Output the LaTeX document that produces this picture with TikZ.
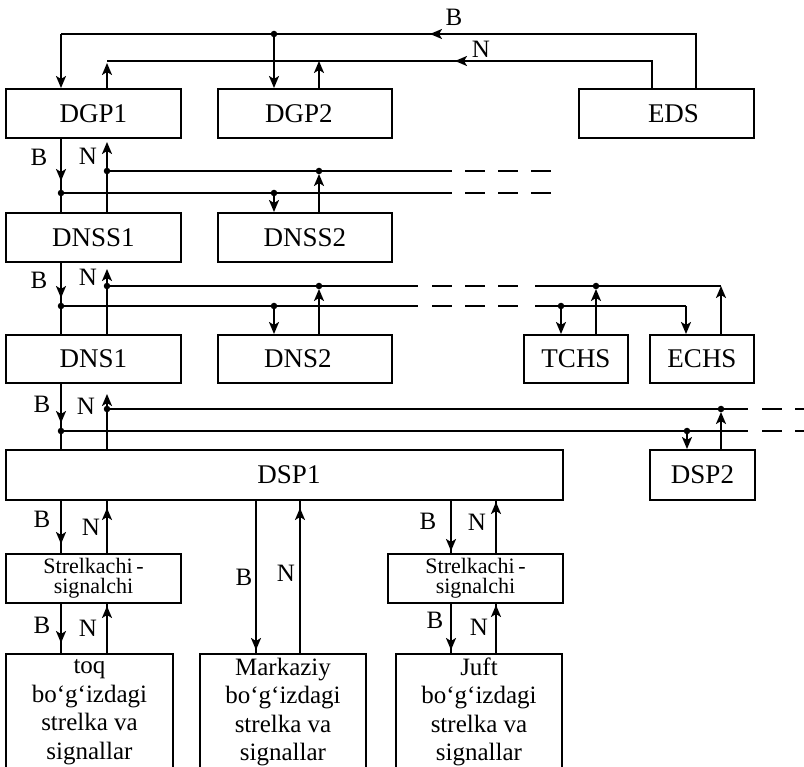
\documentclass[tikz,border=0pt]{standalone}
\usepackage{fontspec}
\setmainfont{Liberation Serif}
\usetikzlibrary{arrows.meta}

\begin{document}
\begin{tikzpicture}[x=1pt, y=-1pt, line width=2pt,
  box/.style={draw, line width=2pt, anchor=north west, inner sep=0pt,
    font=\fontsize{27}{30}\selectfont},
  small/.style={box, align=center, font=\fontsize{22}{20}\selectfont},
  leaf/.style={box, align=center, font=\fontsize{25}{28.5}\selectfont},
  arr/.style={-{Stealth[length=12pt,width=10pt,inset=3pt]}},
  tipat/.style={postaction={draw, arr, shorten >=#1}},
  dot/.style={circle, fill, inner sep=0pt, minimum size=6.5pt},
  lbl/.style={inner sep=0pt, font=\fontsize{25}{27}\selectfont},
  dashseg/.style={dash pattern=on 20pt off 13pt},
]
\useasboundingbox (0,0) rectangle (804,767);
\clip (0,0) rectangle (804,767);

% ---------- blocks ----------
\node[box, minimum width=175pt, minimum height=49pt] (DGP1) at (5,88) {DGP1};
\node[box, minimum width=174pt, minimum height=49pt] (DGP2) at (217,88) {DGP2\hspace*{12pt}};
\node[box, minimum width=175pt, minimum height=49pt] (EDS) at (578,88) {\hspace*{14pt}EDS};

\node[box, minimum width=175pt, minimum height=49pt] (DNSS1) at (5,212) {DNSS1};
\node[box, minimum width=174pt, minimum height=49pt] (DNSS2) at (217,212) {DNSS2};

\node[box, minimum width=175pt, minimum height=48pt] (DNS1) at (5,334) {DNS1};
\node[box, minimum width=174pt, minimum height=48pt] (DNS2) at (217,334) {DNS2\hspace*{14pt}};
\node[box, minimum width=104pt, minimum height=48pt] (TCHS) at (523,334) {TCHS};
\node[box, minimum width=104pt, minimum height=48pt] (ECHS) at (649,334) {ECHS};

\node[box, minimum width=557pt, minimum height=50pt] (DSP1) at (5,449) {\hspace*{9pt}DSP1};
\node[box, minimum width=105pt, minimum height=50pt] (DSP2) at (649,449) {DSP2};

\node[small, minimum width=175pt, minimum height=49pt] (SS1) at (5,553) {Strelkachi\,-\\signalchi};
\node[small, minimum width=175pt, minimum height=49pt] (SS2) at (387,553) {Strelkachi\,-\\signalchi};

\node[leaf, minimum width=167pt, minimum height=116pt] (toq) at (5,653)
  {toq\\bo‘g‘izdagi\\strelka va\\signallar};
\node[leaf, minimum width=166pt, minimum height=116pt] (mark) at (199,653)
  {Markaziy\\bo‘g‘izdagi\\strelka va\\signallar};
\node[leaf, minimum width=166pt, minimum height=116pt] (juft) at (395,653)
  {Juft\\bo‘g‘izdagi\\strelka va\\signallar};

% ---------- columns ----------
\coordinate (cB) at (61,0);   \coordinate (cN) at (107,0);
\coordinate (cmB) at (256,0); \coordinate (cmN) at (300,0);
\coordinate (crB) at (451,0); \coordinate (crN) at (496,0);

% ---------- top loop from EDS ----------
\coordinate (tBl) at (61,34);  \coordinate (tBj) at (274,34);
\coordinate (tBa) at (430,34); \coordinate (tBr) at (696,34);
\coordinate (tNl) at (107,61); \coordinate (tNj) at (319,61);
\coordinate (tNa) at (455,61); \coordinate (tNr) at (652,61);

\draw (EDS.north -| tBr) -- (tBr) -- (tBl);
\draw[arr] (tBr) -- (tBa);
\draw[arr] (tBl) -- (DGP1.north -| tBl);
\draw[arr] (tBj) -- (DGP2.north -| tBj);
\draw (EDS.north -| tNr) -- (tNr) -- (tNl);
\draw[arr] (tNr) -- (tNa);
\draw[arr, shorten >=2pt] (DGP1.north -| tNl) -- (tNl);
\draw[arr] (DGP2.north -| tNj) -- (tNj);
\node[dot] at (tBj) {};
\node[lbl] (lB0) at (454,17) {B};
\node[lbl] (lN0) at (481,49) {N};

% ---------- bus between DGP and DNSS ----------
\coordinate (n1) at (107,171);  \coordinate (b1) at (61,193);
\coordinate (n1j) at (319,171); \coordinate (b1j) at (274,193);
\coordinate (n1e) at (452,171); \coordinate (b1e) at (452,193);
\coordinate (n1d) at (465,171); \coordinate (n1f) at (553,171);
\coordinate (b1d) at (465,193); \coordinate (b1f) at (553,193);

\draw (DGP1.south -| cB) -- (DNSS1.north -| cB);
\draw[arr, shorten >=12pt] (DGP1.south -| cB) -- (b1);
\draw[arr, shorten >=3pt] (DNSS1.north -| cN) -- (DGP1.south -| cN);
\draw (n1) -- (n1e); \draw[dashseg] (n1d) -- (n1f);
\draw (b1) -- (b1e); \draw[dashseg] (b1d) -- (b1f);
\draw[arr] (b1j) -- (DNSS2.north -| b1j);
\draw[arr, shorten >=3pt] (DNSS2.north -| n1j) -- (n1j);
\foreach \p in {n1,b1,n1j,b1j} \node[dot] at (\p) {};
\node[lbl] (lB1) at (39,157) {B};
\node[lbl] (lN1) at (88,156) {N};

% ---------- bus between DNSS and DNS ----------
\coordinate (n2) at (107,286);  \coordinate (b2) at (61,306);
\coordinate (n2j) at (319,286); \coordinate (b2j) at (274,306);
\coordinate (n2e) at (418,286); \coordinate (b2e) at (418,306);
\coordinate (n2d) at (432,286); \coordinate (n2f) at (518,286);
\coordinate (b2d) at (432,306); \coordinate (b2f) at (518,306);
\coordinate (n2r) at (535,286); \coordinate (b2r) at (535,306);
\coordinate (n2t) at (596,286); \coordinate (b2t) at (561,306);
\coordinate (n2c) at (721,286); \coordinate (b2c) at (686,306);

\draw (DNSS1.south -| cB) -- (DNS1.north -| cB);
\draw[arr, shorten >=8pt] (DNSS1.south -| cB) -- (b2);
\draw[arr, shorten >=6pt] (DNS1.north -| cN) -- (DNSS1.south -| cN);
\draw (n2) -- (n2e); \draw[dashseg] (n2d) -- (n2f); \draw (n2r) -- (n2c);
\draw (b2) -- (b2e); \draw[dashseg] (b2d) -- (b2f); \draw (b2r) -- (b2c);
\draw[arr] (b2j) -- (DNS2.north -| b2j);
\draw[arr, shorten >=3pt] (DNS2.north -| n2j) -- (n2j);
\draw[arr] (b2t) -- (TCHS.north -| b2t);
\draw[arr, shorten >=3pt] (TCHS.north -| n2t) -- (n2t);
\draw[arr] (b2c) -- (ECHS.north -| b2c);
\draw[arr] (ECHS.north -| n2c) -- (n2c);
\foreach \p in {n2,b2,n2j,b2j,n2t,b2t} \node[dot] at (\p) {};
\node[lbl] (lB2) at (39,280) {B};
\node[lbl] (lN2) at (88,277) {N};

% ---------- bus between DNS and DSP ----------
\coordinate (n3) at (107,409);  \coordinate (b3) at (61,431);
\coordinate (n3j) at (721,409); \coordinate (b3j) at (687,431);
\coordinate (n3e) at (748,409); \coordinate (b3e) at (748,431);
\coordinate (n3d) at (762,409); \coordinate (n3f) at (810,409);
\coordinate (b3d) at (762,431); \coordinate (b3f) at (810,431);

\draw (DNS1.south -| cB) -- (DSP1.north -| cB);
\draw[arr, shorten >=8pt] (DNS1.south -| cB) -- (b3);
\draw[arr, shorten >=10pt] (DSP1.north -| cN) -- (DNS1.south -| cN);
\draw (n3) -- (n3e); \draw[dashseg] (n3d) -- (n3f);
\draw (b3) -- (b3e); \draw[dashseg] (b3d) -- (b3f);
\draw[arr] (b3j) -- (DSP2.north -| b3j);
\draw[arr, shorten >=3pt] (DSP2.north -| n3j) -- (n3j);
\foreach \p in {n3,b3,n3j,b3j} \node[dot] at (\p) {};
\node[lbl] (lB3) at (42,404) {B};
\node[lbl] (lN3) at (86,406) {N};

% ---------- links below DSP1 ----------
\draw[tipat=9pt] (DSP1.south -| cB) -- (SS1.north -| cB);
\draw[tipat=7pt] (SS1.north -| cN) -- (DSP1.south -| cN);
\draw[tipat=10pt] (SS1.south -| cB) -- (toq.north -| cB);
\draw[tipat=2pt] (toq.north -| cN) -- (SS1.south -| cN);

\draw[tipat=3pt] (DSP1.south -| cmB) -- (mark.north -| cmB);
\draw[tipat=7pt] (mark.north -| cmN) -- (DSP1.south -| cmN);

\draw[tipat=2pt] (DSP1.south -| crB) -- (SS2.north -| crB);
\draw[tipat=1pt] (SS2.north -| crN) -- (DSP1.south -| crN);
\draw[tipat=3pt] (SS2.south -| crB) -- (juft.north -| crB);
\draw[tipat=1pt] (juft.north -| crN) -- (SS2.south -| crN);

\node[lbl] (lB4) at (42,519) {B};
\node[lbl] (lN4) at (91,527) {N};
\node[lbl] (lB5) at (42,625) {B};
\node[lbl] (lN5) at (88,628) {N};
\node[lbl] (lB6) at (244,577) {B};
\node[lbl] (lN6) at (286,573) {N};
\node[lbl] (lB7) at (428,521) {B};
\node[lbl] (lN7) at (477,522) {N};
\node[lbl] (lB8) at (435,620) {B};
\node[lbl] (lN8) at (479,627) {N};
\end{tikzpicture}
\end{document}
